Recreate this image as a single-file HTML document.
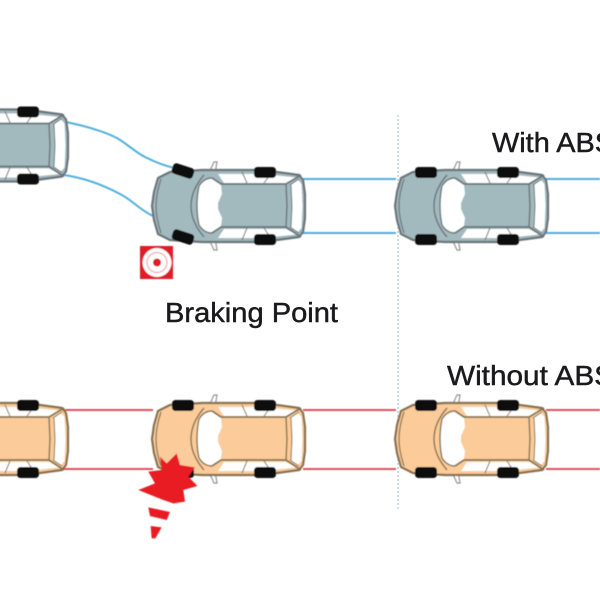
<!DOCTYPE html>
<html><head><meta charset="utf-8">
<style>
html,body{margin:0;padding:0;background:#fff;width:600px;height:600px;overflow:hidden}
svg{display:block}
text{font-family:"Liberation Sans",sans-serif;fill:#1a1a1c;font-size:28px;stroke:#1a1a1c;stroke-width:.45px}
</style></head>
<body>
<svg width="600" height="600" viewBox="0 0 600 600" xmlns="http://www.w3.org/2000/svg">
<defs>
<filter id="b" x="-5%" y="-5%" width="110%" height="110%"><feGaussianBlur stdDeviation="0.5"/></filter>
<path id="outline" d="M6 -28 L18 -34 L50 -36 L110 -36 L147 -31 L151 -26 L153 -12 L153 12 L151 26 L147 31 L110 36 L50 36 L18 34 L6 28 L2 14 L0 0 L2 -14Z"/>
<g id="mirrors" fill="#fff" stroke="#8a8f90" stroke-width="1.2">
  <path d="M57 -33 L62 -44 L65 -44 L63 -33Z M57 33 L62 44 L65 44 L63 33Z"/>
</g>
<g id="whites" fill="#fff">
  <path d="M47 -20 Q52 -28 60 -28 L69 -21 L70 -12 L66 -3 L66 3 L70 12 L69 20 L60 27 Q52 27 47 19 Q43 0 47 -20Z"/>
  <path d="M66 -32 L110 -32 L144 -28.500 L134 -23 L72 -23Z M66 32 L110 32 L144 28.500 L134 23 L72 23Z"/>
  <path d="M139 -21 L146 -26 L149.500 -22 L150.500 0 L149.500 22 L146 26 L139 21 L140 0Z"/>
</g>
<g id="details" fill="none" stroke-linejoin="round">
  <use href="#outline" stroke-width="2.2"/>
  <path d="M9 -27 Q4 -12 4 0 Q4 12 9 27" stroke-width="1.2"/>
  <path d="M52 -31 Q39 -16 39 0 Q39 16 52 31 M47 -20 Q52 -28 60 -28 M47 19 Q52 27 60 27 M47 -20 Q43 0 47 19" stroke-width="1.4"/>
  <path d="M60 -28 L69 -22 L134 -22 L149 -31 M60 27 L69 21 L134 21 L149 31" stroke-width="1.8"/>
  <path d="M134 -22 L135 0 L134 21" stroke-width="1.4"/>
  <path d="M138 -21 L147 -27 M138 21 L147 27 M139 -21 L140 0 L139 21" stroke-width="1"/>
  <path d="M90 -34 L95 -23 M112 -23 L118 -31 M90 34 L95 22 M112 22 L118 31" stroke-width="1"/>
</g>
<g id="rearwheels" fill="#0a0a0a">
  <rect x="102" y="-39" width="22" height="11" rx="3.500"/>
  <rect x="102" y="28" width="22" height="11" rx="3.500"/>
</g>
<g id="frontwheels" fill="#0a0a0a">
  <rect x="20" y="-39" width="22" height="11" rx="3.500"/>
  <rect x="20" y="28" width="22" height="11" rx="3.500"/>
</g>
<g id="turnwheels" fill="#0a0a0a">
  <rect x="20" y="-40.500" width="22" height="11" rx="3.500" transform="rotate(18 31 -35)"/>
  <rect x="20" y="25.500" width="22" height="11" rx="3.500" transform="rotate(18 31 31)"/>
</g>
<g id="blue">
  <use href="#mirrors"/>
  <use href="#outline" fill="#a2b9be"/>
  <use href="#whites"/>
  <use href="#details" stroke="#6a7478"/>
</g>
<g id="tan">
  <use href="#mirrors"/>
  <use href="#outline" fill="#fbcb9a"/>
  <use href="#whites"/>
  <use href="#details" stroke="#86714f"/>
</g>
</defs>

<path d="M398 115 V510" stroke="#bcd6e8" stroke-width="1.5" stroke-dasharray="2 2" fill="none"/>

<g filter="url(#b)">
<g fill="none" stroke="#4fb0dc" stroke-width="2">
  <path d="M66 122 C90 127 105 132 117 138 C130 146 135 152 145 157 C155 162 165 166 175 168"/>
  <path d="M64 175 C85 178 105 186 120 194 C132 200 140 210 153 216"/>
  <path d="M303 179 H396 M303 233 H396 M546 179 H600 M546 233 H600"/>
</g>
<g fill="none" stroke="#e4505f" stroke-width="2">
  <path d="M0 410 H153 M0 469 H153 M303 410 H396 M303 469 H396 M546 410 H600 M546 469 H600"/>
</g>

<g transform="translate(-85 145.500)"><use href="#blue"/><use href="#frontwheels"/><use href="#rearwheels"/></g>
<g transform="translate(152 206)"><use href="#blue"/><use href="#turnwheels"/><use href="#rearwheels"/></g>
<g transform="translate(395 206)"><use href="#blue"/><use href="#frontwheels"/><use href="#rearwheels"/></g>

<g transform="translate(-85 439)"><use href="#tan"/><use href="#frontwheels"/><use href="#rearwheels"/></g>
<g transform="translate(152 439)"><use href="#tan"/><use href="#frontwheels"/><use href="#rearwheels"/></g>
<g transform="translate(395 439)"><use href="#tan"/><use href="#frontwheels"/><use href="#rearwheels"/></g>

<rect x="140" y="246" width="33" height="33" fill="#e01f26"/>
<circle cx="157" cy="262.500" r="14.500" fill="#fff"/>
<circle cx="157" cy="262.500" r="10" fill="none" stroke="#f0a6aa" stroke-width="1.200"/>
<circle cx="157" cy="262.500" r="4" fill="#e01f26"/>

<g transform="translate(120 390) scale(.3333)">
  <path d="M120 200 L140 220 L170 190 L180 225 L225 232 L205 260 L232 288 L190 300 L195 335 L160 340 L130 330 L55 300 L105 280 L85 245 L125 240Z" fill="#e81c24"/>
  <path d="M85 352 L150 366 L140 390 L90 378Z" fill="#e81c24"/>
  <path d="M92 408 L125 412 L106 445 L95 445Z" fill="#e81c24"/>
</g>
</g>

<text x="165" y="322" textLength="173" lengthAdjust="spacingAndGlyphs">Braking Point</text>
<text x="492" y="152" textLength="122" lengthAdjust="spacingAndGlyphs">With ABS</text>
<text x="447" y="385" textLength="167" lengthAdjust="spacingAndGlyphs">Without ABS</text>
</svg>
</body></html>
